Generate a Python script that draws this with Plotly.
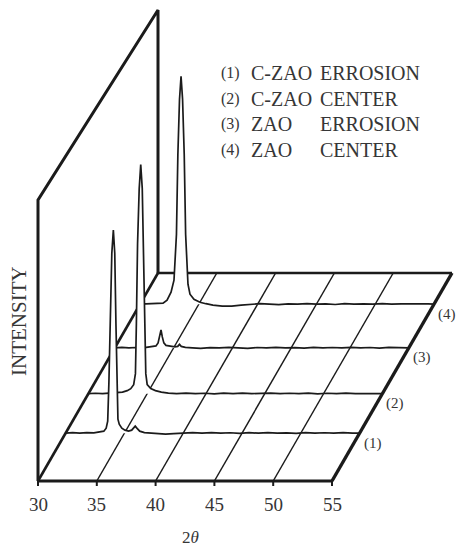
import plotly.graph_objects as go

# ---------------- data ----------------
tick_values = [30, 35, 40, 45, 50, 55]
tick_labels = ["30", "35", "40", "45", "50", "55"]
row_labels = ["(1)", "(2)", "(3)", "(4)"]
legend_num = ["(1)", "(2)", "(3)", "(4)"]
legend_material = ["C-ZAO", "C-ZAO", "ZAO", "ZAO"]
legend_region = ["ERROSION", "CENTER", "ERROSION", "CENTER"]
row_depth = [0.23, 0.42, 0.64, 0.85]   # fraction of floor depth

tt1 = [30.0, 30.6, 31.2, 31.8, 32.4, 32.9, 33.25, 33.45, 33.58, 33.68, 33.8, 33.93, 34.06, 34.18, 34.28,
       34.36, 34.45, 34.56, 34.78, 35.05, 35.35, 35.62, 35.8, 35.92, 36.06, 36.3, 36.7, 37.2, 37.8, 38.5,
       39.2, 40.0, 40.8, 41.6, 42.4, 43.2, 44.0, 44.8, 45.6, 46.4, 47.2, 48.0, 48.8, 49.6, 50.4, 51.2,
       52.0, 52.8, 53.6, 54.4, 55.0]
int1 = [0, 0.5, 0, 0.6, 0.3, 1, 2, 5, 12, 50, 120, 180, 203, 180, 110,
        40, 14, 9, 5, 3, 2, 3, 6, 7, 5, 2, 0.5, 0, -0.5, -1,
        -0.5, 0, 0.5, 0, 0.6, 0, 0.4, -0.3, 0.5, 0, 0.6, 0, 0.3, -0.2, 0.5, 0,
        0.4, 0, 0.5, 0, 0]

tt2 = [30.0, 30.6, 31.2, 31.8, 32.4, 32.9, 33.3, 33.6, 33.85, 34.0, 34.08, 34.18, 34.32, 34.45, 34.58,
       34.68, 34.78, 34.88, 35.0, 35.3, 35.7, 36.2, 36.8, 37.5, 38.3, 39.1, 39.9, 40.7, 41.5, 42.3,
       43.1, 43.9, 44.7, 45.5, 46.3, 47.1, 47.9, 48.7, 49.5, 50.3, 51.1, 51.9, 52.7, 53.5, 54.3, 55.0]
int2 = [0, 0.4, 0, 0.5, 0.6, 1.5, 3, 5, 9, 20, 70, 150, 205, 229, 205,
        150, 70, 20, 9, 5, 3, 1.5, 0.5, 0, 0.5, 0, 0.4, -0.3, 0.5, 0,
        0.6, 0, 0.3, 0.6, 0, 0.4, 0, 0.5, -0.2, 0.4, 0, 0.5, 0, 0.3, 0, 0]

tt3 = [30.0, 30.6, 31.2, 31.8, 32.4, 32.9, 33.25, 33.5, 33.68, 33.82, 33.93, 34.04, 34.17, 34.35, 34.7,
       35.1, 35.35, 35.5, 35.65, 36.0, 36.6, 37.3, 38.1, 38.9, 39.7, 40.5, 41.3, 42.1, 42.9, 43.7,
       44.5, 45.3, 46.1, 46.9, 47.7, 48.5, 49.3, 50.1, 50.9, 51.7, 52.5, 53.3, 54.1, 55.0]
int3 = [0, 0.5, 0, 0.4, 0, 0.6, 1, 2, 5, 11, 18, 11, 5, 2.5, 1.5,
        1, 1.5, 3.5, 1.5, 0.5, 0, -0.5, 0.3, 0, 0.5, 0, -0.4, 0.4, 0, 0.6,
        0, 0.3, -0.3, 0.5, 0, 0.4, 0, 0.6, 0, 0.4, -0.2, 0.5, 0, 0]

tt4 = [30.0, 30.5, 31.0, 31.5, 31.96, 32.3, 32.64, 32.89, 33.1, 33.22, 33.36, 33.49, 33.62, 33.76, 33.88,
       34.08, 34.25, 34.59, 35.1, 35.6, 36.2, 37.0, 37.8, 38.6, 39.4, 40.2, 41.0, 41.8, 42.6, 43.4,
       44.2, 45.0, 45.8, 46.6, 47.4, 48.2, 49.0, 49.8, 50.6, 51.4, 52.2, 53.0, 53.8, 54.5, 55.0]
int4 = [0, 0.3, 0, 0.5, 1, 4, 12, 24, 70, 150, 205, 228, 205, 150, 70,
        20, 10, 5, 2, 0.5, -1, -2, -2, -1, 0, 0.5, 0, -0.5, 0.4, 0,
        0.6, 0, 0.3, -0.3, 0.5, 0, 0.4, 0, 0.6, 0, 0.3, 0.5, 0, 0.4, 0]

series_tt = [tt1, tt2, tt3, tt4]
series_int = [int1, int2, int3, int4]

# ---------------- oblique projection settings ----------------
W, H = 457, 546
PX_PER_DEG = 11.76
DEPTH_DX = 120 / PX_PER_DEG     # in 2-theta units
DEPTH_DY = 208                  # in intensity units
WALL_FRONT = 281
WALL_BACK = 263
X0_PX, Y0_PX = 38, 481
x_range = [30 - X0_PX / PX_PER_DEG, 30 + (W - X0_PX) / PX_PER_DEG]
y_range = [-(H - Y0_PX), Y0_PX]

INK = "#1b1b1b"
TEXT = "#363636"
SERIF = "Liberation Serif, Times New Roman, serif"


def proj(tt, inten, d):
    return tt + d * DEPTH_DX, inten + d * DEPTH_DY


fig = go.Figure()


def seg(points, width, color=INK):
    xs, ys = [], []
    for tt, inten, d in points:
        x, y = proj(tt, inten, d)
        xs.append(x)
        ys.append(y)
    fig.add_trace(go.Scatter(x=xs, y=ys, mode="lines", hoverinfo="skip",
                             line=dict(color=color, width=width)))


lo, hi = tick_values[0], tick_values[-1]
# floor grid diagonals
for t in tick_values[1:-1]:
    seg([(t, 0, 0), (t, 0, 1)], 1.5)
# floor frame
seg([(lo, 0, 1), (hi, 0, 1)], 2.4)
seg([(lo, 0, 0), (lo, 0, 1)], 2.6)
seg([(hi, 0, 0), (hi, 0, 1)], 3.4)
seg([(lo, 0, 0), (hi, 0, 0)], 3.0)
# tick marks
for t in tick_values:
    seg([(t, 0, 0), (t, -5, 0)], 2.0)
# walls
seg([(lo, 0, 0), (lo, WALL_FRONT, 0), (lo, WALL_BACK, 1), (lo, 0, 1)], 3.0)

# traces, back to front with white curtains for hidden-line removal
for i in reversed(range(len(series_tt))):
    d = row_depth[i]
    xs, ys = [], []
    for tt, inten in zip(series_tt[i], series_int[i]):
        x, y = proj(tt, inten, d)
        xs.append(x)
        ys.append(y)
    bx1, by1 = proj(series_tt[i][-1], 0, d)
    bx0, by0 = proj(series_tt[i][0], 0, d)
    fig.add_trace(go.Scatter(x=xs + [bx1, bx0], y=ys + [by1, by0], mode="lines",
                             fill="toself", fillcolor="white", hoverinfo="skip",
                             line=dict(width=0, color="rgba(0,0,0,0)")))
    fig.add_trace(go.Scatter(x=xs, y=ys, mode="lines", hoverinfo="skip",
                             line=dict(color=INK, width=1.7)))
    # row label at right end
    fig.add_annotation(x=bx1, y=by1, xref="x", yref="y", text=row_labels[i],
                       showarrow=False, xshift=13, yshift=-10,
                       xanchor="center", yanchor="middle",
                       font=dict(family=SERIF, size=15, color=TEXT))

# tick labels
for t, lab in zip(tick_values, tick_labels):
    fig.add_annotation(x=t, y=-23, xref="x", yref="y", text=lab, showarrow=False,
                       xanchor="center", yanchor="middle",
                       font=dict(family=SERIF, size=19, color=TEXT))

# axis titles
fig.add_annotation(x=190 / W, y=1 - 537 / H, xref="paper", yref="paper", text="2<i>θ</i>",
                   xanchor="center", yanchor="middle",
                   showarrow=False, font=dict(family=SERIF, size=17, color=TEXT))
fig.add_annotation(x=19 / W, y=1 - 321 / H, xref="paper", yref="paper", text="INTENSITY",
                   xanchor="center", yanchor="middle",
                   textangle=-90, showarrow=False, font=dict(family=SERIF, size=21, color=TEXT))

# legend block
legend_y = [73, 99, 124, 150]
for k in range(4):
    yy = 1 - legend_y[k] / H
    fig.add_annotation(x=219 / W, y=yy, xref="paper", yref="paper", text=legend_num[k],
                       xanchor="left", yanchor="middle", showarrow=False,
                       font=dict(family=SERIF, size=16, color=TEXT))
    fig.add_annotation(x=249 / W, y=yy, xref="paper", yref="paper", text=legend_material[k],
                       xanchor="left", yanchor="middle", showarrow=False,
                       font=dict(family=SERIF, size=20, color=TEXT))
    fig.add_annotation(x=318 / W, y=yy, xref="paper", yref="paper", text=legend_region[k],
                       xanchor="left", yanchor="middle", showarrow=False,
                       font=dict(family=SERIF, size=20, color=TEXT))

fig.update_layout(
    width=W, height=H, margin=dict(l=0, r=0, t=0, b=0),
    paper_bgcolor="white", plot_bgcolor="white", showlegend=False,
    xaxis=dict(range=x_range, visible=False, fixedrange=True),
    yaxis=dict(range=y_range, visible=False, fixedrange=True),
)

fig.write_html("out.html", config={"displayModeBar": False})
